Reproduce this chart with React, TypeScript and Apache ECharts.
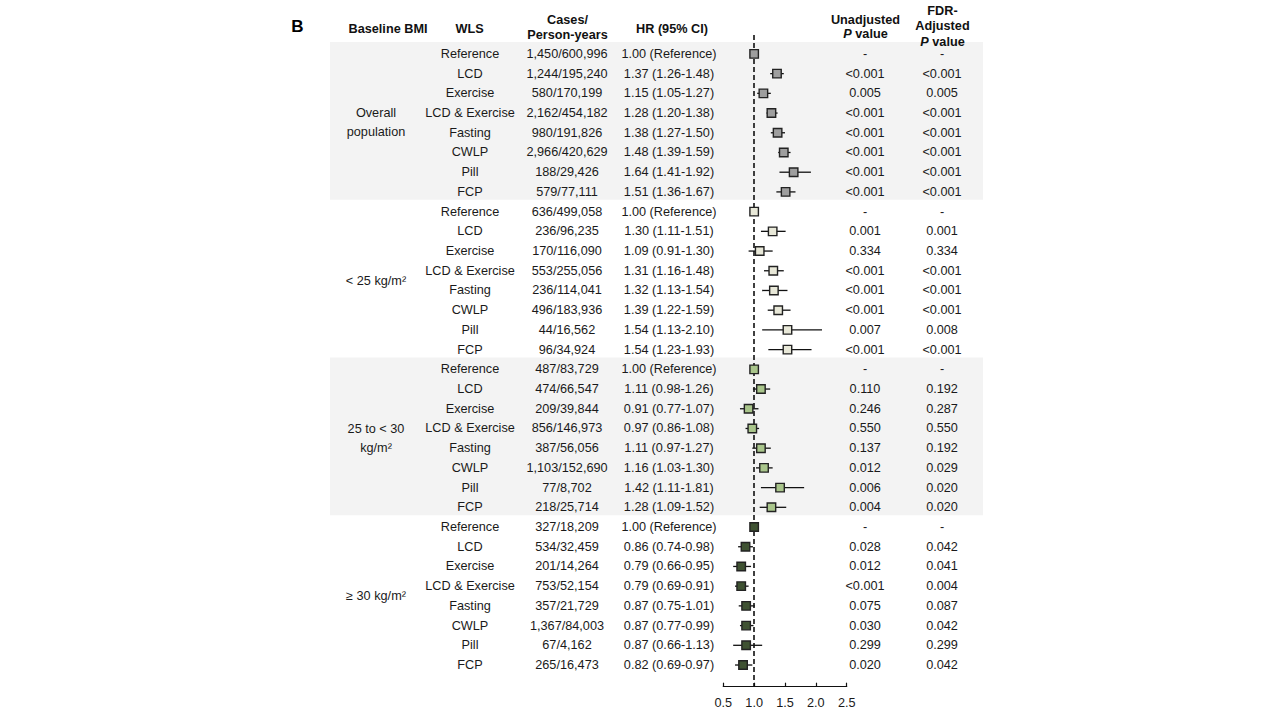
import React, { useEffect, useRef } from "react";
import * as echarts from "echarts";

const FONT = "'Liberation Sans', Arial, Helvetica, sans-serif";
const FS = 12.7;
const TXT = "#1a1a1a";

// ---------- data ----------
const wlsNames = ["Reference", "LCD", "Exercise", "LCD & Exercise", "Fasting", "CWLP", "Pill", "FCP"];
const groupLabels = ["Overall\npopulation", "< 25 kg/m²", "25 to < 30\nkg/m²", "≥ 30 kg/m²"];
const groupColors = ["#9e9e9e", "#e8e8d8", "#a9c58b", "#3f5232"];

const casesOverall = ["1,450/600,996", "1,244/195,240", "580/170,199", "2,162/454,182", "980/191,826", "2,966/420,629", "188/29,426", "579/77,111"];
const hrOverall = [1.0, 1.37, 1.15, 1.28, 1.38, 1.48, 1.64, 1.51];
const loOverall = [null, 1.26, 1.05, 1.2, 1.27, 1.39, 1.41, 1.36];
const hiOverall = [null, 1.48, 1.27, 1.38, 1.5, 1.59, 1.92, 1.67];
const pUOverall = ["-", "<0.001", "0.005", "<0.001", "<0.001", "<0.001", "<0.001", "<0.001"];
const pFOverall = ["-", "<0.001", "0.005", "<0.001", "<0.001", "<0.001", "<0.001", "<0.001"];

const casesLt25 = ["636/499,058", "236/96,235", "170/116,090", "553/255,056", "236/114,041", "496/183,936", "44/16,562", "96/34,924"];
const hrLt25 = [1.0, 1.3, 1.09, 1.31, 1.32, 1.39, 1.54, 1.54];
const loLt25 = [null, 1.11, 0.91, 1.16, 1.13, 1.22, 1.13, 1.23];
const hiLt25 = [null, 1.51, 1.3, 1.48, 1.54, 1.59, 2.1, 1.93];
const pULt25 = ["-", "0.001", "0.334", "<0.001", "<0.001", "<0.001", "0.007", "<0.001"];
const pFLt25 = ["-", "0.001", "0.334", "<0.001", "<0.001", "<0.001", "0.008", "<0.001"];

const cases25to30 = ["487/83,729", "474/66,547", "209/39,844", "856/146,973", "387/56,056", "1,103/152,690", "77/8,702", "218/25,714"];
const hr25to30 = [1.0, 1.11, 0.91, 0.97, 1.11, 1.16, 1.42, 1.28];
const lo25to30 = [null, 0.98, 0.77, 0.86, 0.97, 1.03, 1.11, 1.09];
const hi25to30 = [null, 1.26, 1.07, 1.08, 1.27, 1.3, 1.81, 1.52];
const pU25to30 = ["-", "0.110", "0.246", "0.550", "0.137", "0.012", "0.006", "0.004"];
const pF25to30 = ["-", "0.192", "0.287", "0.550", "0.192", "0.029", "0.020", "0.020"];

const casesGe30 = ["327/18,209", "534/32,459", "201/14,264", "753/52,154", "357/21,729", "1,367/84,003", "67/4,162", "265/16,473"];
const hrGe30 = [1.0, 0.86, 0.79, 0.79, 0.87, 0.87, 0.87, 0.82];
const loGe30 = [null, 0.74, 0.66, 0.69, 0.75, 0.77, 0.66, 0.69];
const hiGe30 = [null, 0.98, 0.95, 0.91, 1.01, 0.99, 1.13, 0.97];
const pUGe30 = ["-", "0.028", "0.012", "<0.001", "0.075", "0.030", "0.299", "0.020"];
const pFGe30 = ["-", "0.042", "0.041", "0.004", "0.087", "0.042", "0.299", "0.042"];

const xTicks = [0.5, 1.0, 1.5, 2.0, 2.5];

const groups = [
  { cases: casesOverall, hr: hrOverall, lo: loOverall, hi: hiOverall, pU: pUOverall, pF: pFOverall },
  { cases: casesLt25, hr: hrLt25, lo: loLt25, hi: hiLt25, pU: pULt25, pF: pFLt25 },
  { cases: cases25to30, hr: hr25to30, lo: lo25to30, hi: hi25to30, pU: pU25to30, pF: pF25to30 },
  { cases: casesGe30, hr: hrGe30, lo: loGe30, hi: hiGe30, pU: pUGe30, pF: pFGe30 },
];

// ---------- layout ----------
const GRID_TOP = 35;
const GRID_H = 651.7;
const Y_MIN = -0.96;
const Y_MAX = 32.1;

function buildOption() {
  const nPer = wlsNames.length;
  const rowsAll: number[] = [];
  const wlsTexts: string[] = [];
  const caseTexts: string[] = [];
  const hrTexts: string[] = [];
  const pUTexts: string[] = [];
  const pFTexts: string[] = [];
  const ciData: number[][] = [];
  groups.forEach((g, gi) => {
    g.hr.forEach((h, i) => {
      const row = gi * nPer + i;
      rowsAll.push(row);
      wlsTexts.push(wlsNames[i]);
      caseTexts.push(g.cases[i]);
      const lo = g.lo[i];
      const hi = g.hi[i];
      hrTexts.push(lo == null || hi == null ? `${h.toFixed(2)} (Reference)` : `${h.toFixed(2)} (${lo.toFixed(2)}-${hi.toFixed(2)})`);
      pUTexts.push(g.pU[i]);
      pFTexts.push(g.pF[i]);
      if (lo != null && hi != null) ciData.push([lo, hi, row]);
    });
  });
  const groupRows = groups.map((_, gi) => gi * nPer + (nPer - 1) / 2);
  const bandData = [
    [-0.6, 7.4],
    [15.4, 23.4],
  ];

  // grids: 0 forest, 1 bands, 2 bmi, 3 wls, 4 cases, 5 hr, 6 pU, 7 pF
  const colCenters = [376, 470, 567, 669, 865, 942];
  const grids: any[] = [
    { left: 723.3, width: 123.4, top: GRID_TOP, height: GRID_H },
    { left: 330, width: 653, top: GRID_TOP, height: GRID_H },
    ...colCenters.map((c) => ({ left: c - 60, width: 120, top: GRID_TOP, height: GRID_H })),
  ];
  const xAxes: any[] = grids.map((_, i) =>
    i === 0
      ? {
          type: "value",
          gridIndex: 0,
          position: "bottom",
          min: xTicks[0],
          max: xTicks[xTicks.length - 1],
          interval: 0.5,
          axisLine: { show: true, onZero: false, lineStyle: { color: "#111", width: 1.2 } },
          axisTick: { show: true, inside: true, length: 4, lineStyle: { color: "#111", width: 1.2 } },
          axisLabel: {
            color: TXT,
            fontSize: FS,
            fontFamily: FONT,
            margin: 10,
            formatter: (v: number) => v.toFixed(1),
          },
          splitLine: { show: false },
        }
      : { type: "value", gridIndex: i, min: 0, max: 1, show: false }
  );
  const yAxes: any[] = grids.map((_, i) => ({
    type: "value",
    gridIndex: i,
    inverse: true,
    min: Y_MIN,
    max: Y_MAX,
    show: false,
  }));

  const textSeries = (gridIdx: number, texts: string[], rows: number[], lineHeight?: number) => ({
    type: "custom",
    xAxisIndex: gridIdx,
    yAxisIndex: gridIdx,
    silent: true,
    z: 5,
    data: rows.map((r) => [0.5, r]),
    encode: { x: 0, y: 1 },
    renderItem: (params: any, api: any) => {
      const p = api.coord([api.value(0), api.value(1)]);
      return {
        type: "text",
        x: p[0],
        y: p[1],
        style: {
          text: texts[params.dataIndex],
          fill: TXT,
          fontSize: FS,
          fontFamily: FONT,
          align: "center",
          verticalAlign: "middle",
          lineHeight: lineHeight || FS * 1.2,
        },
      };
    },
  });

  const series: any[] = [
    {
      type: "custom",
      xAxisIndex: 1,
      yAxisIndex: 1,
      silent: true,
      z: 0,
      data: bandData,
      renderItem: (params: any, api: any) => {
        const a = api.coord([0, api.value(0)]);
        const b = api.coord([1, api.value(1)]);
        return {
          type: "rect",
          shape: { x: a[0], y: a[1], width: b[0] - a[0], height: b[1] - a[1] },
          style: { fill: "#f3f3f3" },
        };
      },
    },
    textSeries(2, groupLabels, groupRows, 19),
    textSeries(3, wlsTexts, rowsAll),
    textSeries(4, caseTexts, rowsAll),
    textSeries(5, hrTexts, rowsAll),
    textSeries(6, pUTexts, rowsAll),
    textSeries(7, pFTexts, rowsAll),
    {
      type: "custom",
      xAxisIndex: 0,
      yAxisIndex: 0,
      silent: true,
      z: 6,
      data: ciData,
      encode: { x: [0, 1], y: 2 },
      renderItem: (params: any, api: any) => {
        const a = api.coord([api.value(0), api.value(2)]);
        const b = api.coord([api.value(1), api.value(2)]);
        return {
          type: "line",
          shape: { x1: a[0], y1: a[1], x2: b[0], y2: b[1] },
          style: { stroke: "#111", lineWidth: 1.3 },
        };
      },
    },
    ...groups.map((g, gi) => ({
      type: "scatter",
      xAxisIndex: 0,
      yAxisIndex: 0,
      silent: true,
      z: 8,
      symbol: "rect",
      symbolSize: 8.5,
      itemStyle: { color: groupColors[gi], borderColor: "#222", borderWidth: 1.4, opacity: 1 },
      data: g.hr.map((h, i) => [h, gi * nPer + i]),
      markLine:
        gi === 0
          ? {
              silent: true,
              symbol: ["none", "none"],
              label: { show: false },
              z: 7,
              lineStyle: { color: "#111", type: [5, 3], width: 1.6 },
              data: [{ xAxis: 1 }],
            }
          : undefined,
    })),
  ];

  const hdr = (text: string, x: number, y: number, lh = 15) => ({
    type: "text",
    x,
    y,
    z: 100,
    silent: true,
    style: {
      text,
      fill: "#111",
      fontSize: FS,
      fontWeight: "bold",
      fontFamily: FONT,
      align: "center",
      verticalAlign: "middle",
      lineHeight: lh,
      rich: {
        i: { fontStyle: "italic", fontWeight: "bold", fontSize: FS, fontFamily: FONT, fill: "#111", lineHeight: lh },
        b: { fontWeight: "bold", fontSize: FS, fontFamily: FONT, fill: "#111", lineHeight: lh },
      },
    },
  });

  const graphic: any[] = [
    {
      type: "text",
      x: 297.5,
      y: 26,
      z: 100,
      silent: true,
      style: { text: "B", fill: "#000", fontSize: 17, fontWeight: "bold", fontFamily: FONT, align: "center", verticalAlign: "middle" },
    },
    hdr("Baseline BMI", 388, 29),
    hdr("WLS", 469.5, 29),
    hdr("Cases/\nPerson-years", 567.5, 27.5),
    hdr("HR (95% CI)", 672, 29),
    hdr("{b|Unadjusted}\n{i|P}{b| value}", 865.5, 27, 14.5),
    hdr("{b|FDR-}\n{b|Adjusted}\n{i|P}{b| value}", 942.5, 26.3, 15.3),
  ];

  return {
    animation: false,
    backgroundColor: "#ffffff",
    textStyle: { fontFamily: FONT },
    grid: grids,
    xAxis: xAxes,
    yAxis: yAxes,
    series,
    graphic,
  };
}

export default function App() {
  const ref = useRef<HTMLDivElement | null>(null);
  useEffect(() => {
    if (!ref.current) return;
    const chart = echarts.init(ref.current, undefined, { renderer: "svg" });
    chart.setOption(buildOption() as any);
    return () => chart.dispose();
  }, []);
  return (
    <div
      ref={ref}
      style={{ position: "fixed", left: 0, top: 0, width: 1280, height: 720, background: "#fff" }}
    />
  );
}
